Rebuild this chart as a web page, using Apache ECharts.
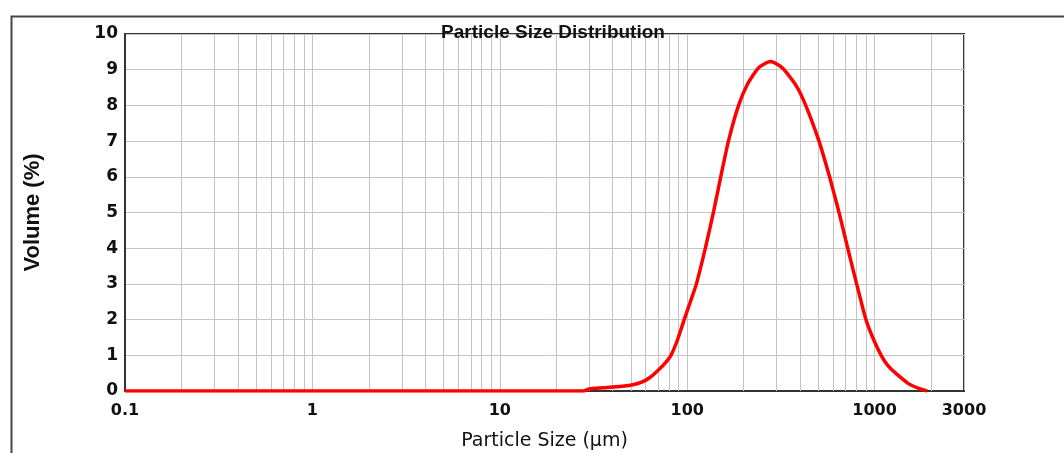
<!DOCTYPE html>
<html>
<head>
<meta charset="utf-8">
<script src="https://cdn.jsdelivr.net/npm/echarts@6/dist/echarts.min.js"></script>
<style>html,body{margin:0;padding:0;background:#fff}#c{width:1064px;height:453px}</style>
</head>
<body>
<div id="c"></div>
<script>
// Particle size (µm) and volume (%)
var sizes = [0.1, 1, 10, 28, 30, 36, 45, 52, 58, 63, 68, 75, 81.9, 89, 96.4, 104, 112, 125, 138, 151, 166, 188, 210, 240, 278, 310, 329, 387, 429, 505, 575, 646, 719, 802, 899, 977, 1084, 1175, 1295, 1523, 1750, 1905];
var volumes = [0, 0, 0, 0, 0.06, 0.09, 0.13, 0.18, 0.26, 0.37, 0.52, 0.74, 1, 1.45, 2, 2.5, 3, 4, 5, 6, 7, 8, 8.6, 9.05, 9.23, 9.12, 9, 8.5, 8, 7, 6, 5, 4, 3, 2, 1.5, 1, 0.72, 0.5, 0.2, 0.06, 0];
// minor vertical grid lines (2..9 of each decade, plus 2000)
var minorGridValues = [0.2,0.3,0.4,0.5,0.6,0.7,0.8,0.9, 2,3,4,5,6,7,8,9, 20,30,40,50,60,70,80,90, 200,300,400,500,600,700,800,900, 2000];
var xMin = 0.1, xMax = 3000;
var yMin = 0, yMax = 10, yInterval = 1;

var chart = echarts.init(document.getElementById('c'), null, {renderer: 'canvas'});
var pts = sizes.map(function (s, i) { return [s, volumes[i]]; });
var gridColor = '#c4c4c4';
chart.setOption({
  animation: false,
  backgroundColor: '#fff',
  title: {
    text: 'Particle Size Distribution',
    left: 548, top: 18, textAlign: 'center',
    textStyle: {fontFamily: 'Liberation Sans', fontWeight: 'bold', fontSize: 19, color: '#111'}
  },
  graphic: [{
    type: 'rect', left: 9, top: 14, silent: true, z: -1,
    shape: {x: 0, y: 0, width: 1100, height: 500},
    style: {fill: 'none', stroke: '#444', lineWidth: 2}
  }],
  grid: {left: 125, top: 34, right: 100, bottom: 62, outerBoundsMode: 'none', containLabel: false,
    show: true, borderColor: '#333', borderWidth: 2, backgroundColor: 'transparent'},
  xAxis: {
    type: 'log', logBase: 10, min: xMin, max: xMax,
    name: 'Particle Size (µm)', nameLocation: 'middle', nameGap: 41,
    nameTextStyle: {fontFamily: 'DejaVu Sans', fontSize: 19, color: '#111'},
    axisLine: {show: true, lineStyle: {color: '#333', width: 2}},
    axisTick: {show: false},
    axisLabel: {fontFamily: 'DejaVu Sans', fontWeight: 'bold', fontSize: 16, color: '#111', margin: 12,
      showMinLabel: true, showMaxLabel: true,
      formatter: function (v) { return String(+Number(v).toPrecision(6)); }},
    splitLine: {show: true, lineStyle: {color: gridColor, width: 1}}
  },
  yAxis: {
    type: 'value', min: yMin, max: yMax, interval: yInterval,
    name: 'Volume (%)', nameLocation: 'middle', nameGap: 81,
    nameTextStyle: {fontFamily: 'Liberation Sans', fontWeight: 'bold', fontSize: 22, color: '#111'},
    axisLine: {show: true, lineStyle: {color: '#333', width: 2}},
    axisTick: {show: false},
    axisLabel: {fontFamily: 'DejaVu Sans', fontWeight: 'bold', fontSize: 17, color: '#111', margin: 7},
    splitLine: {show: true, lineStyle: {color: gridColor, width: 1}}
  },
  series: [{
    type: 'line', data: [], silent: true,
    markLine: {
      silent: true, symbol: 'none', animation: false,
      label: {show: false},
      lineStyle: {color: gridColor, type: 'solid', width: 1},
      data: minorGridValues.map(function (v) { return {xAxis: v}; })
    }
  }, {
    type: 'line', data: pts, showSymbol: false, smooth: 0.2,
    lineStyle: {color: '#ff0000', width: 3.5}, z: 5
  }]
});
</script>
</body>
</html>
